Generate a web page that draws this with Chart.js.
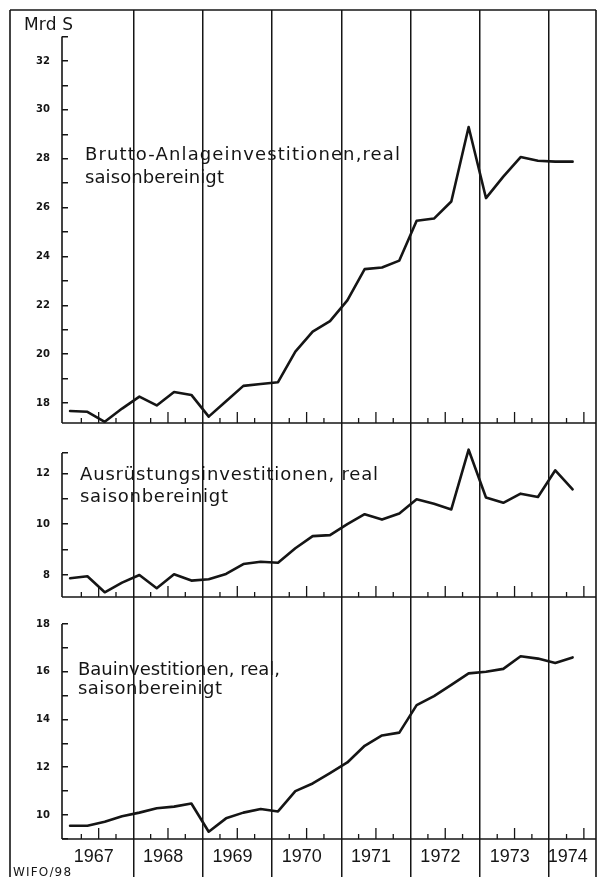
<!DOCTYPE html>
<html>
<head>
<meta charset="utf-8">
<script src="https://cdn.jsdelivr.net/npm/chart.js@4.4.1/dist/chart.umd.min.js"></script>
<style>
  html, body { margin: 0; padding: 0; background: #fff; }
  #wrap { width: 597px; height: 877px; }
</style>
</head>
<body>
<div id="wrap"><canvas id="chart" width="597" height="877"></canvas></div>
<script>
// quarterly values, 1967 I to 1974 II, Mrd S
const years = [1967, 1968, 1969, 1970, 1971, 1972, 1973, 1974];
const bruttoAnlage = [17.67, 17.64, 17.23, 17.77, 18.26, 17.9, 18.45, 18.33, 17.44, 18.07,
  18.7, 18.78, 18.85, 20.1, 20.92, 21.35, 22.2, 23.48, 23.55, 23.83,
  25.46, 25.55, 26.25, 29.3, 26.39, 27.27, 28.07, 27.92, 27.88, 27.88];
const ausruestung = [7.87, 7.95, 7.32, 7.7, 8.0, 7.48, 8.03, 7.78, 7.83, 8.04,
  8.43, 8.52, 8.48, 9.05, 9.53, 9.57, 10.0, 10.39, 10.18, 10.42,
  10.98, 10.8, 10.58, 12.93, 11.05, 10.84, 11.2, 11.07, 12.12, 11.37];
const bau = [9.55, 9.55, 9.72, 9.95, 10.1, 10.28, 10.35, 10.48, 9.3, 9.86,
  10.1, 10.25, 10.15, 11.0, 11.32, 11.75, 12.2, 12.9, 13.33, 13.45,
  14.6, 14.98, 15.45, 15.93, 16.0, 16.12, 16.65, 16.55, 16.37, 16.6];

const panelTitles = [
  ['Brutto-Anlageinvestitionen,real', 'saisonbereinigt'],
  ['Ausrüstungsinvestitionen, real', 'saisonbereinigt'],
  ['Bauinvestitionen, real,', 'saisonbereinigt']
];
const unitLabel = 'Mrd S';
const sourceLabel = 'WIFO/98';

// axis ranges (value at panel bottom, at band top, end of the drawn axis)
const yMin = [17.18, 7.134, 8.995];
const yMax = [34.09, 13.98, 19.13];
const yTop = [33, 12.8, 18];
const xMin = 1966.971, xMax = 1974.675;

// layout
const bandHeights = [413, 174, 242];
const titleBoxes = [
  { x: 85, y: 160, w: 315, y2: 183, w2: 139 },
  { x: 80, y: 480, w: 298, y2: 502, w2: 148 },
  { x: 78, y: 675, w: 202, y2: 694, w2: 144 }
];
const ink = '#151515';
const axisIds = ['y1', 'y2', 'y3'];

function toPoints(arr) {
  return arr.map((v, i) => ({ x: years[0] + (i + 0.35) / 4, y: v }));
}

function line(ctx, x1, y1, x2, y2) {
  ctx.beginPath();
  ctx.moveTo(x1, y1);
  ctx.lineTo(x2, y2);
  ctx.stroke();
}

function drawFitted(ctx, str, x, y, width) {
  ctx.letterSpacing = '0px';
  const w = ctx.measureText(str).width;
  const n = [...str].length;
  const gap = n > 1 ? (width - w) / (n - 1) : 0;
  ctx.letterSpacing = gap.toFixed(2) + 'px';
  ctx.fillText(str, x, y);
  ctx.letterSpacing = '0px';
}

function yScale(k) {
  return {
    type: 'linear',
    position: 'left',
    stack: 'panels',
    stackWeight: bandHeights[k],
    weight: 3 - k,
    min: yMin[k],
    max: yMax[k],
    border: { display: false },
    grid: { drawOnChartArea: false, color: ink, lineWidth: 1.5, tickLength: -6 },
    afterBuildTicks: s => {
      const t = [];
      for (let v = Math.ceil(yMin[k]); v <= yTop[k]; v++) t.push({ value: v });
      if (!Number.isInteger(yTop[k])) t.push({ value: yTop[k] });
      s.ticks = t;
    },
    afterFit: s => { s.width = 52; s.paddingTop = 0; s.paddingBottom = 0; },
    ticks: {
      autoSkip: false,
      padding: 18,
      color: ink,
      font: { family: 'DejaVu Sans', size: 10, weight: 'bold' },
      callback: v => (Number.isInteger(v) && v % 2 === 0 ? String(v) : '')
    }
  };
}

const framePlugin = {
  id: 'frame',
  afterDraw(chart) {
    const { ctx, chartArea, scales } = chart;
    const xs = scales.x;
    ctx.save();
    ctx.strokeStyle = ink;
    ctx.lineWidth = 1.6;
    // outer frame
    line(ctx, 10, 10, chartArea.right, 10);
    line(ctx, 10, 10, 10, chart.height);
    line(ctx, chartArea.right, 10, chartArea.right, chart.height);

    axisIds.forEach((id, k) => {
      const s = scales[id];
      const base = s.getPixelForValue(yMin[k]);
      const top = s.getPixelForValue(yTop[k]);
      line(ctx, chartArea.left, base, chartArea.right, base);
      line(ctx, chartArea.left, base, chartArea.left, top);
      ctx.lineWidth = 1.3;
      years.forEach(yr => {
        [0.25, 0.5, 0.75].forEach(q => {
          const px = xs.getPixelForValue(yr + q);
          if (px > chartArea.right - 2) return;
          line(ctx, px, base, px, base - (q === 0.5 ? 11 : 5));
        });
      });
      ctx.lineWidth = 1.6;
    });

    // texts
    ctx.fillStyle = ink;
    ctx.textBaseline = 'alphabetic';
    ctx.textAlign = 'left';
    ctx.font = '18px "DejaVu Sans"';
    panelTitles.forEach((t, k) => {
      const b = titleBoxes[k];
      drawFitted(ctx, t[0], b.x, b.y, b.w);
      drawFitted(ctx, t[1], b.x, b.y2, b.w2);
    });
    ctx.font = '17px "DejaVu Sans"';
    drawFitted(ctx, unitLabel, 24, 30, 49);
    ctx.font = '12px "DejaVu Sans"';
    drawFitted(ctx, sourceLabel, 13, 876, 58);
    ctx.restore();
  }
};

// year boundaries carry the grid lines, mid-year ticks carry the labels
function yearTicks() {
  const t = [];
  years.forEach(yr => {
    if (yr > years[0]) t.push({ value: yr });
    const lo = Math.max(yr, xMin), hi = Math.min(yr + 1, xMax);
    t.push({ value: (lo + hi) / 2 - 0.07 });
  });
  return t;
}

Chart.defaults.font.family = 'DejaVu Sans';

new Chart(document.getElementById('chart'), {
  type: 'line',
  data: {
    datasets: [
      { label: panelTitles[0][0], data: toPoints(bruttoAnlage), yAxisID: 'y1' },
      { label: panelTitles[1][0], data: toPoints(ausruestung), yAxisID: 'y2' },
      { label: panelTitles[2][0], data: toPoints(bau), yAxisID: 'y3' }
    ].map(d => Object.assign(d, {
      borderColor: ink, borderWidth: 2.6, pointRadius: 0, tension: 0,
      borderJoinStyle: 'round', borderCapStyle: 'round', fill: false
    }))
  },
  options: {
    responsive: false,
    devicePixelRatio: 1,
    animation: false,
    layout: { padding: { left: 10, top: 10, right: 1, bottom: 0 } },
    plugins: { legend: { display: false }, tooltip: { enabled: false } },
    scales: {
      x: {
        type: 'linear',
        position: 'bottom',
        min: xMin,
        max: xMax,
        border: { display: false },
        grid: {
          color: c => (c.tick && Number.isInteger(c.tick.value) ? ink : 'rgba(0,0,0,0)'),
          lineWidth: 1.5,
          tickLength: 38
        },
        afterBuildTicks: s => { s.ticks = yearTicks(); },
        afterFit: s => { s.height = 38; s.paddingLeft = 0; s.paddingRight = 0; },
        ticks: {
          autoSkip: false,
          maxRotation: 0,
          padding: -31,
          color: ink,
          font: { family: 'Liberation Sans', size: 18 },
          callback: v => (Number.isInteger(v) ? '' : String(Math.floor(v)))
        }
      },
      y3: yScale(2),
      y2: yScale(1),
      y1: yScale(0)
    }
  },
  plugins: [framePlugin]
});
</script>
</body>
</html>
